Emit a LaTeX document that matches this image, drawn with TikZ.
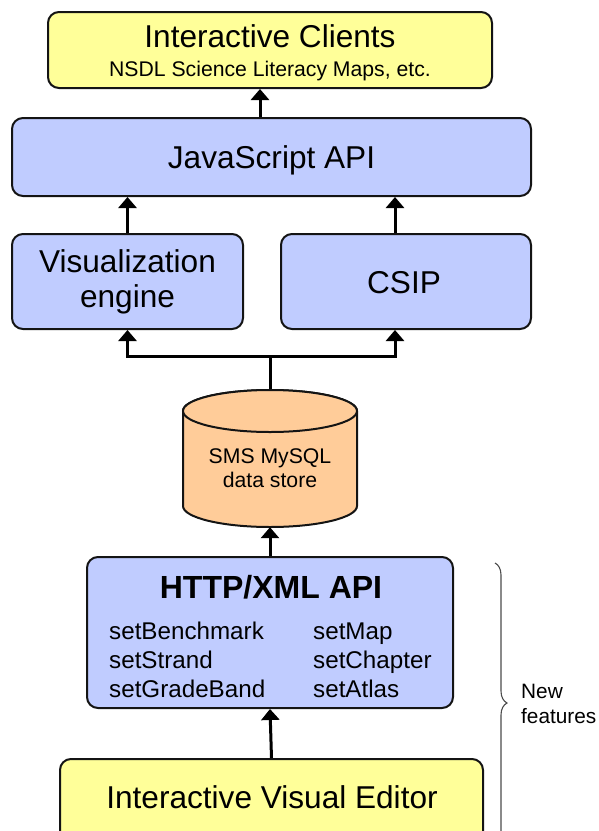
\documentclass[tikz,border=0pt]{standalone}
\usepackage{fontspec}
\setmainfont{Liberation Sans}
\usetikzlibrary{arrows.meta,decorations.pathreplacing,calc}
\definecolor{boxblue}{RGB}{192,204,255}
\definecolor{boxyellow}{RGB}{255,255,153}
\definecolor{cylorange}{RGB}{255,204,153}
\definecolor{edge}{RGB}{20,20,20}
\newcommand{\bigf}{\fontsize{31.6}{35}\selectfont}
\newcommand{\midf}{\fontsize{24.2}{29}\selectfont}
\newcommand{\smf}{\fontsize{21.2}{24}\selectfont}
\begin{document}
\begin{tikzpicture}[x=1pt,y=-1pt,
  box/.style={draw=edge,line width=2pt,rounded corners=11pt,inner sep=0pt},
  bluebox/.style={box,fill=boxblue},
  yellowbox/.style={box,fill=boxyellow},
  arr/.style={line width=3pt,draw=black,-{Triangle[width=18pt,length=11pt]}},
  txt/.style={inner sep=0pt,anchor=base}]
\useasboundingbox (0,0) rectangle (599,831);
\clip (0,0) rectangle (599,831);
% boxes
\node[yellowbox,minimum width=444pt,minimum height=76pt] (clients) at (270,50) {};
\node[txt,font=\bigf] (clientsT) at (270,47) {Interactive Clients};
\node[txt,font=\smf] (clientsS) at (270,76) {NSDL Science Literacy Maps, etc.};
\node[bluebox,minimum width=519pt,minimum height=78pt] (js) at (271.5,157) {};
\node[txt,font=\bigf] (jsT) at (271.5,168) {JavaScript API};
\node[bluebox,minimum width=231pt,minimum height=95pt] (vis) at (127.5,281.5) {};
\node[txt,font=\bigf] (visT1) at (127.5,272) {Visualization};
\node[txt,font=\bigf] (visT2) at (127.5,307) {engine};
\node[bluebox,minimum width=250pt,minimum height=95pt] (csip) at (406,281.5) {};
\node[txt,font=\bigf] (csipT) at (404,293) {CSIP};
% cylinder
\draw[draw=edge,line width=2pt,fill=cylorange]
  (183,411) -- (183,506) arc[start angle=180,end angle=360,x radius=87,y radius=-21]
  -- (357,411) arc[start angle=0,end angle=180,x radius=87,y radius=-21] -- cycle;
\draw[draw=edge,line width=2pt,fill=cylorange] (270,411) ellipse[x radius=87,y radius=21];
\node[inner sep=0pt,minimum width=174pt,minimum height=138pt] (db) at (270,458) {};
\node[txt,font=\smf] (dbT1) at (270,463) {SMS MySQL};
\node[txt,font=\smf] (dbT2) at (270,487) {data store};
% HTTP/XML API
\node[bluebox,minimum width=366pt,minimum height=151pt] (http) at (270,632.5) {};
\node[txt,font=\fontsize{32}{36}\selectfont\bfseries] (httpT) at (271,598) {HTTP/XML API};
\node[txt,anchor=base west,font=\midf] (m1) at (109,639) {setBenchmark};
\node[txt,anchor=base west,font=\midf] (m2) at (109,668) {setStrand};
\node[txt,anchor=base west,font=\midf] (m3) at (109,697) {setGradeBand};
\node[txt,anchor=base west,font=\midf] (m4) at (313,639) {setMap};
\node[txt,anchor=base west,font=\midf] (m5) at (313,668) {setChapter};
\node[txt,anchor=base west,font=\midf] (m6) at (313,697) {setAtlas};
% editor
\node[yellowbox,minimum width=423pt,minimum height=100pt] (editor) at (271.5,809) {};
\node[txt,font=\bigf] (editorT) at (272,808) {Interactive Visual Editor};
% connectors
\coordinate (cl) at (260,0);
\coordinate (cx) at (395,0);
\draw[arr] (cl |- js.north) -- (cl |- clients.south);
\draw[arr] (vis.north) -- (vis.north |- js.south);
\draw[arr] (cx |- csip.north) -- (cx |- js.south);
\coordinate (split) at ($(db.north)+(0,-32)$);
\draw[arr] (db.north) -- (split) -| (vis.south);
\draw[arr] (split) -| (cx |- csip.south);
\draw[arr] (http.north) -- (db.south);
\draw[arr] (editor.north) -- (http.south);
% brace
\draw[decorate,decoration={brace,amplitude=12pt},draw=black!70,line width=1.1pt]
  (495,563) -- (495,843);
\node[txt,anchor=base west,font=\fontsize{20.8}{24}\selectfont] (nf1) at (521,698) {New};
\node[txt,anchor=base west,font=\fontsize{20.8}{24}\selectfont] (nf2) at (521,723) {features};
\end{tikzpicture}
\end{document}
